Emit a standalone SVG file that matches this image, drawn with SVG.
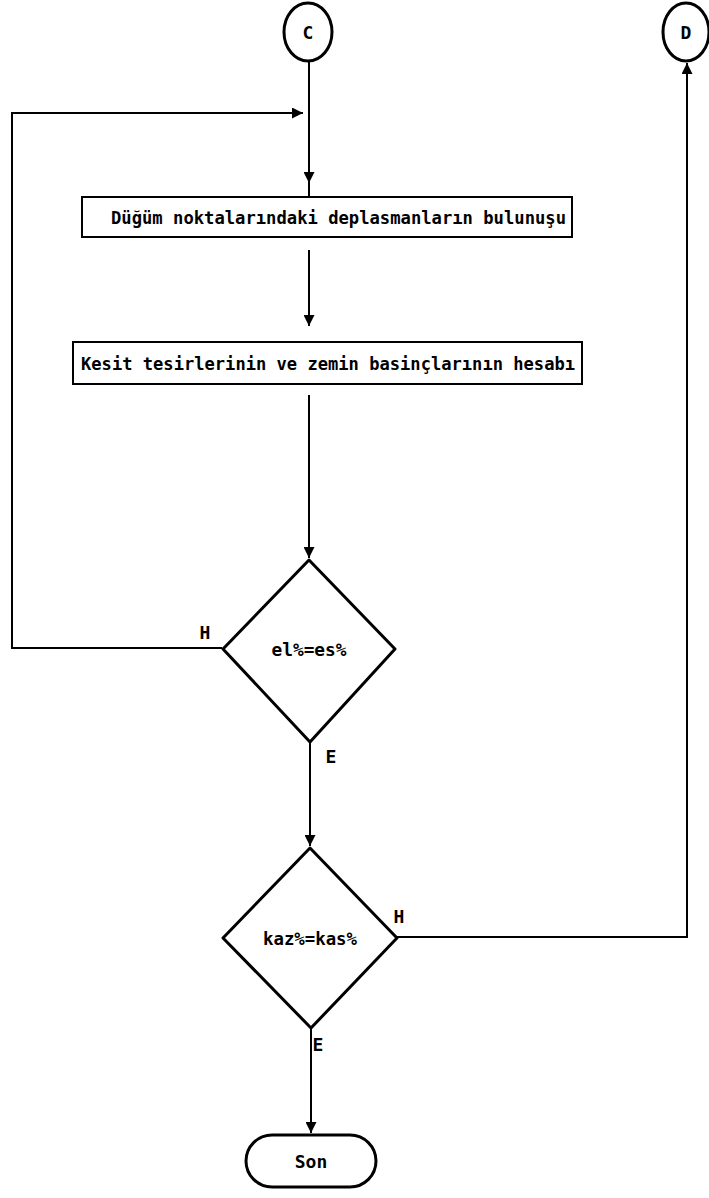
<svg xmlns="http://www.w3.org/2000/svg" width="709" height="1198" viewBox="0 0 709 1198">
<style>
.sh{fill:#fff;stroke:#000;stroke-width:3}
.bx{fill:#fff;stroke:#000;stroke-width:2}
.ln{fill:none;stroke:#000;stroke-width:2}
.t{font-family:"DejaVu Sans Mono","Liberation Mono",monospace;font-weight:bold;font-size:18px;fill:#000}
</style>
<defs>
<marker id="ah" viewBox="0 0 10 10" refX="10" refY="5" markerWidth="6.5" markerHeight="5.5" orient="auto" markerUnits="strokeWidth">
<path d="M0,0 L10,5 L0,10 z" fill="#000"/>
</marker>
</defs>
<g id="connectors">
<path class="ln" d="M309,61 L309,183" marker-end="url(#ah)"/>
<path class="ln" d="M309,183 L309,197"/>
<path class="ln" d="M222,648 L12,648 L12,113 L303,113" marker-end="url(#ah)"/>
<path class="ln" d="M309,250 L309,326" marker-end="url(#ah)"/>
<path class="ln" d="M309,395 L309,558" marker-end="url(#ah)"/>
<path class="ln" d="M310,742 L310,846" marker-end="url(#ah)"/>
<path class="ln" d="M397,937 L687,937 L687,63" marker-end="url(#ah)"/>
<path class="ln" d="M311,1028 L311,1133" marker-end="url(#ah)"/>
</g>
<g id="nodeC">
<ellipse class="sh" cx="308" cy="32" rx="24" ry="29"/>
<text class="t" x="308" y="39" text-anchor="middle">C</text>
</g>
<g id="nodeD">
<ellipse class="sh" cx="686" cy="32" rx="23" ry="29"/>
<text class="t" x="686" y="39" text-anchor="middle">D</text>
</g>
<g id="box1">
<rect class="bx" x="82" y="197" width="490" height="40"/>
<text class="t" x="111" y="224" textLength="455" lengthAdjust="spacingAndGlyphs">Düğüm noktalarındaki deplasmanların bulunuşu</text>
</g>
<g id="box2">
<rect class="bx" x="73" y="342" width="509" height="42"/>
<text class="t" x="81" y="370" textLength="494" lengthAdjust="spacingAndGlyphs">Kesit tesirlerinin ve zemin basinçlarının hesabı</text>
</g>
<g id="dec1">
<path class="sh" d="M309,560 L395,649 L310,742 L223,649 Z" stroke-linejoin="round"/>
<text class="t" x="309" y="656" text-anchor="middle" textLength="75" lengthAdjust="spacingAndGlyphs">el%=es%</text>
<text class="t" x="205" y="639" text-anchor="middle">H</text>
<text class="t" x="331" y="763" text-anchor="middle">E</text>
</g>
<g id="dec2">
<path class="sh" d="M310,848 L397,938 L311,1028 L223,938 Z" stroke-linejoin="round"/>
<text class="t" x="310" y="945" text-anchor="middle" textLength="94" lengthAdjust="spacingAndGlyphs">kaz%=kas%</text>
<text class="t" x="399" y="923" text-anchor="middle">H</text>
<text class="t" x="318" y="1051" text-anchor="middle">E</text>
</g>
<g id="son">
<rect class="sh" x="246" y="1135" width="130" height="52" rx="26" ry="26"/>
<text class="t" x="311" y="1168" text-anchor="middle">Son</text>
</g>
</svg>
